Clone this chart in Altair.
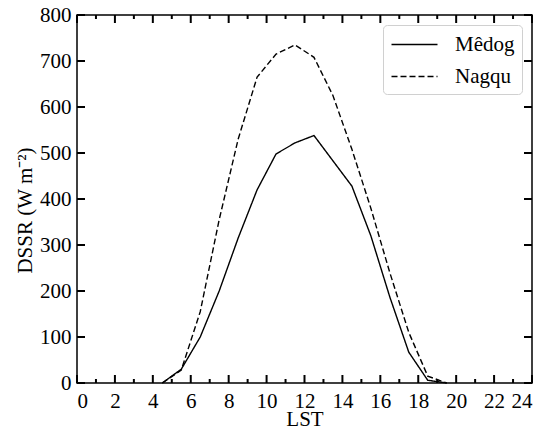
import altair as alt
import pandas as pd

# hourly mean values (LST, half-hour centred)
hours = [4.5, 5.5, 6.5, 7.5, 8.5, 9.5, 10.5, 11.5, 12.5, 13.5, 14.5, 15.5, 16.5, 17.5, 18.5, 19.5]
medog = [0, 30, 100, 200, 315, 420, 498, 522, 538, 483, 428, 320, 187, 67, 6, 0]
nagqu = [0, 28, 155, 355, 530, 665, 715, 735, 708, 625, 508, 380, 240, 110, 15, 0]
sites = ["Mêdog", "Nagqu"]

# tick positions (major + minor on x, major on y)
x_major = list(range(0, 25, 2))
x_minor = list(range(1, 24, 2))
y_major = list(range(0, 801, 100))

df = pd.concat([
    pd.DataFrame({"LST": hours, "DSSR": medog, "Site": sites[0]}),
    pd.DataFrame({"LST": hours, "DSSR": nagqu, "Site": sites[1]}),
], ignore_index=True)
xmaj_df = pd.DataFrame({"LST": x_major})
xmin_df = pd.DataFrame({"LST": x_minor})
ymaj_df = pd.DataFrame({"DSSR": y_major})

FONT = "Liberation Serif"
FS = 21
W, H = 455, 368
TL, TM = 8, 4  # major / minor tick length

x_scale = alt.Scale(domain=[0, 24], nice=False, zero=False)
y_scale = alt.Scale(domain=[0, 800], nice=False)
x_axis = alt.Axis(values=x_major, ticks=False, domain=False, grid=False,
                  labelPadding=7, titleBaseline="alphabetic", titleY=42)
y_axis = alt.Axis(values=y_major, ticks=False, domain=False, grid=False,
                  labelPadding=6, titleBaseline="middle", titleX=-52, titleY=195)
X = alt.X("LST:Q", scale=x_scale, title="LST", axis=x_axis)
Y = alt.Y("DSSR:Q", scale=y_scale, title="DSSR (W m⁻²)", axis=y_axis)

lines = alt.Chart(df).mark_line(color="black", strokeWidth=1.4).encode(
    x=X, y=Y,
    strokeDash=alt.StrokeDash("Site:N", scale=alt.Scale(domain=sites, range=[[1, 0], [6, 3]]),
                              legend=alt.Legend(title=None, orient="top-right", offset=10,
                                                symbolType="M-2,0H2", symbolSize=529,
                                                symbolStrokeWidth=1.4, symbolStrokeColor="black",
                                                symbolOffset=12,
                                                labelFont=FONT, labelFontSize=FS, labelColor="black",
                                                labelOffset=28, rowPadding=9,
                                                padding=7, strokeColor="#d0d0d0",
                                                cornerRadius=4, fillColor="white")),
)

# inward ticks on all four sides
tick = dict(color="black", strokeWidth=2, opacity=1)
xb_major = alt.Chart(xmaj_df).mark_rule(**tick).encode(x=X, y=alt.value(H), y2=alt.value(H - TL))
xt_major = alt.Chart(xmaj_df).mark_rule(**tick).encode(x=X, y=alt.value(0), y2=alt.value(TL))
xb_minor = alt.Chart(xmin_df).mark_rule(**tick).encode(x=X, y=alt.value(H), y2=alt.value(H - TM))
xt_minor = alt.Chart(xmin_df).mark_rule(**tick).encode(x=X, y=alt.value(0), y2=alt.value(TM))
yl_major = alt.Chart(ymaj_df).mark_rule(**tick).encode(y=Y, x=alt.value(0), x2=alt.value(TL))
yr_major = alt.Chart(ymaj_df).mark_rule(**tick).encode(y=Y, x=alt.value(W), x2=alt.value(W - TL))

chart = alt.layer(
    xb_major, xt_major, xb_minor, xt_minor, yl_major, yr_major, lines
).properties(
    width=W, height=H,
    autosize=alt.AutoSizeParams(type="none"),
    padding={"left": 69, "top": 7, "right": 10, "bottom": 46},
).configure_view(
    stroke="black", strokeWidth=1.5
).configure_axis(
    labelFont=FONT, titleFont=FONT, labelFontSize=FS, titleFontSize=FS,
    labelColor="black", titleColor="black", titleFontWeight="normal",
)

chart.save("out.html", embed_options={"renderer": "svg", "actions": False})
